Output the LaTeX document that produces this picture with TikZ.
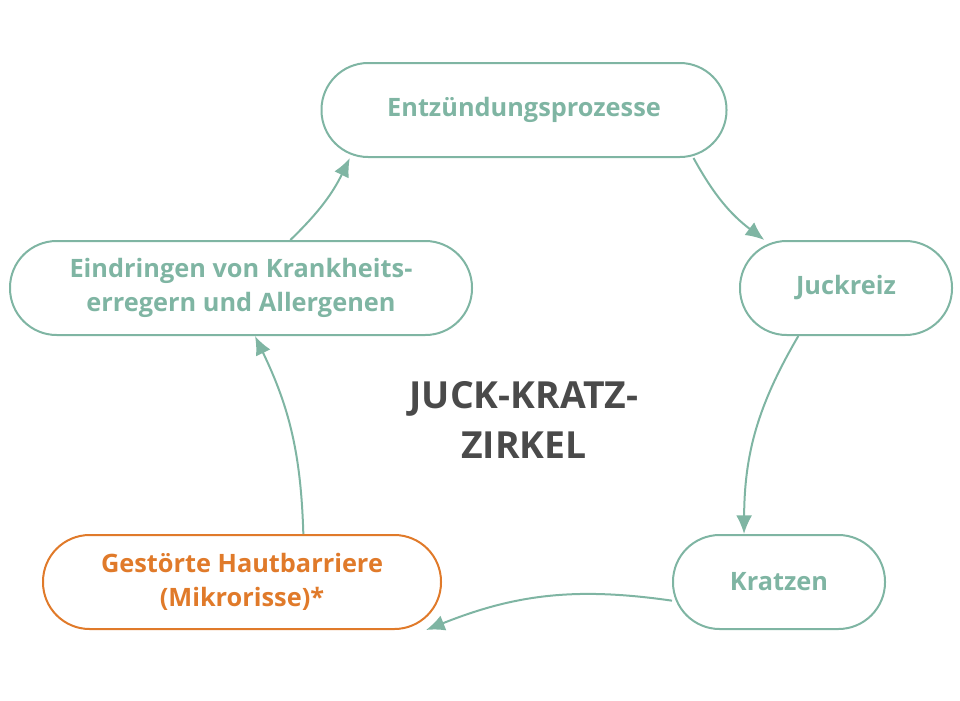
\documentclass[tikz,border=0pt]{standalone}
\usepackage{fontspec}
\setmainfont{Open Sans}
\usetikzlibrary{arrows.meta}
\definecolor{teal}{HTML}{7FB5A3}
\definecolor{org}{HTML}{E07A2A}
\definecolor{dk}{HTML}{4A4A4A}
\begin{document}
\begin{tikzpicture}[x=0.75pt,y=-0.75pt,
 box/.style={draw=teal,line width=1.5pt,rounded corners=35pt,align=center,font=\fontsize{19}{25}\selectfont\bfseries,text=teal,inner sep=0pt},
 arr/.style={draw=teal,line width=1.5pt,-{Latex[length=14pt,width=12pt]}}]
\useasboundingbox (0,0) rectangle (960,700);
\node[box,minimum width=405*0.75pt,minimum height=94*0.75pt] (e) at (524,110) {Entzündungsprozesse};
\node[box,minimum width=212*0.75pt,minimum height=94*0.75pt] (j) at (846,288) {Juckreiz};
\node[box,minimum width=212*0.75pt,minimum height=94*0.75pt] (k) at (779,582) {Kratzen};
\node[box,draw=org,text=org,minimum width=398*0.75pt,minimum height=94*0.75pt] (g) at (242,582) {Gestörte Hautbarriere\\(Mikrorisse)*};
\node[box,minimum width=462*0.75pt,minimum height=94*0.75pt] (d) at (241,288) {Eindringen von Krankheits-\\erregern und Allergenen};
\node[font=\fontsize{28}{38}\selectfont\bfseries,text=dk,align=center] (t) at (524,420) {JUCK-KRATZ-\\ZIRKEL};
\draw[arr] ([xshift=-25.5pt]e.south east) to[bend right=12] ([xshift=19pt]j.north west);
\draw[arr] ([xshift=-116pt]j.south east) to[bend right=15] ([xshift=54pt]k.north west);
\draw[arr] ([yshift=-14pt]k.west) to[bend right=15] ([xshift=-12pt]g.south east);
\draw[arr] ([xshift=196pt]g.north west) to[bend right=12] ([xshift=10.5pt]d.south);
\draw[arr] ([xshift=37pt]d.north) to[bend right=10] ([xshift=22pt]e.south west);
\end{tikzpicture}
\end{document}
